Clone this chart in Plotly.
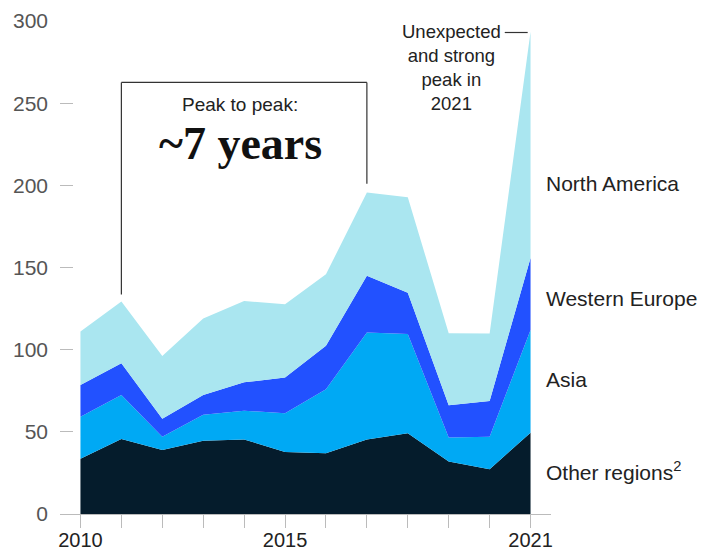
import plotly.graph_objects as go

years = list(range(2010, 2022))
other_regions = [33.6, 45.6, 39.0, 44.6, 45.4, 37.7, 36.9, 45.4, 49.2, 32.0, 27.2, 49.5]
asia = [25.6, 26.8, 8.0, 15.8, 17.5, 23.6, 39.0, 65.0, 60.4, 14.5, 19.8, 62.5]
western_europe = [19.3, 19.3, 11.0, 12.0, 17.2, 21.7, 26.5, 34.6, 25.1, 19.7, 21.8, 43.8]
north_america = [32.5, 37.6, 38.2, 46.6, 49.5, 44.7, 43.5, 50.6, 58.0, 43.8, 41.0, 137.7]

series_names = ["Other regions<sup>2</sup>", "Asia", "Western Europe", "North America"]
series_values = [other_regions, asia, western_europe, north_america]
colors = ["#051C2C", "#00A9F4", "#2251FF", "#AAE6F0"]
label_y = [26.2, 81.6, 130.9, 200.9]

x_tick_vals = [2010, 2015, 2021]
x_tick_text = ["2010", "2015", "2021"]
y_ticks = [0, 50, 100, 150, 200, 250, 300]

SANS = "Liberation Sans, Arial, sans-serif"
SERIF = "Liberation Serif, Times New Roman, serif"

fig = go.Figure()
for name, vals, col in zip(series_names, series_values, colors):
    fig.add_trace(go.Scatter(
        x=years, y=vals, name=name, stackgroup="one", mode="lines",
        line=dict(width=0, color=col), fillcolor=col, hoverinfo="skip",
    ))

# right-side series labels
for name, yv in zip(series_names, label_y):
    fig.add_annotation(x=years[-1], y=yv, text=name, showarrow=False,
                       xanchor="left", yanchor="middle", xshift=13,
                       font=dict(family=SANS, size=21, color="#222222"))

# bracket for peak to peak
br_top = 262.6
line_style = dict(color="#333333", width=1.2)
fig.add_shape(type="line", x0=2011, x1=2011, y0=133.5, y1=br_top, line=line_style)
fig.add_shape(type="line", x0=2011, x1=2017, y0=br_top, y1=br_top, line=line_style)
fig.add_shape(type="line", x0=2017, x1=2017, y0=201, y1=br_top, line=line_style)

fig.add_annotation(x=2013.9, y=248.9, text="Peak to peak:", showarrow=False,
                   xanchor="center", yanchor="middle",
                   font=dict(family=SANS, size=19, color="#222222"))
fig.add_annotation(x=2013.9, y=225.5, text="<b>~7 years</b>", showarrow=False,
                   xanchor="center", yanchor="middle",
                   font=dict(family=SERIF, size=46, color="#111111"))

# 2021 peak note
fig.add_annotation(x=2019.07, y=271.5, text="Unexpected<br>and strong<br>peak in<br>2021",
                   showarrow=False, xanchor="center", yanchor="middle", align="center",
                   font=dict(family=SANS, size=18.5, color="#222222"))
fig.add_shape(type="line", x0=2020.37, x1=2020.93, y0=293, y1=293,
              line=dict(color="#333333", width=1.2))

fig.update_layout(
    width=705, height=553,
    margin=dict(l=59.5, r=153.5, t=21, b=39, autoexpand=False),
    paper_bgcolor="white", plot_bgcolor="white",
    showlegend=False,
    xaxis=dict(range=[2009.5, 2021.5], tickvals=x_tick_vals, ticktext=x_tick_text,
               ticks="outside", ticklen=13, tickcolor="#bbbbbb", tickwidth=1,
               minor=dict(ticks="outside", ticklen=13, tickcolor="#bbbbbb",
                          tickwidth=1, tick0=2010, dtick=1, showgrid=False),
               showline=True, linecolor="#bbbbbb", linewidth=1,
               showgrid=False, zeroline=False, automargin=False,
               ticklabelstandoff=-5,
               tickfont=dict(family=SANS, size=20, color="#222222")),
    yaxis=dict(range=[0, 300], tickvals=y_ticks, ticks="inside", ticklen=13,
               tickcolor="#bbbbbb", tickwidth=1, showline=False,
               showgrid=False, zeroline=False, ticklabelstandoff=11,
               automargin=False,
               tickfont=dict(family=SANS, size=21, color="#555555")),
)

fig.write_html("out.html")
